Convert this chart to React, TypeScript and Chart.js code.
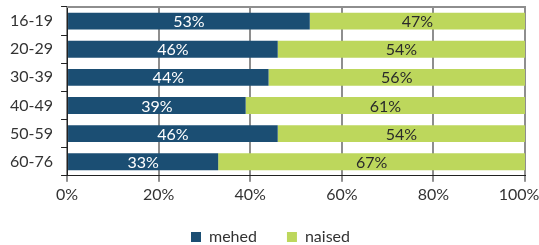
import React, { useEffect, useRef } from "react";
import { Chart, registerables } from "chart.js";

Chart.register(...registerables);

const categories = ["16-19", "20-29", "30-39", "40-49", "50-59", "60-76"];
const mehed = [53, 46, 44, 39, 46, 33];
const naised = [47, 54, 56, 61, 54, 67];
const xTicks = [0, 20, 40, 60, 80, 100];

const BLUE = "#1b4e73";
const GREEN = "#bdd75c";
const GRID = "#8e8e8e";
const FONT = "Lato, 'Open Sans', sans-serif";

const labelPlugin = {
  id: "barLabels",
  afterDatasetsDraw(chart: any) {
    const ctx = chart.ctx;
    ctx.save();
    ctx.font = `16px ${FONT}`;
    ctx.textAlign = "center";
    ctx.textBaseline = "middle";
    chart.data.datasets.forEach((ds: any, di: number) => {
      const meta = chart.getDatasetMeta(di);
      meta.data.forEach((bar: any, i: number) => {
        const x = (bar.x + bar.base) / 2;
        ctx.fillStyle = di === 0 ? "#ffffff" : "#2a2a2a";
        ctx.fillText(ds.data[i] + "%", x, bar.y + 1);
      });
    });
    ctx.restore();
  },
};

const topLinePlugin = {
  id: "topLine",
  beforeDatasetsDraw(chart: any) {
    const { ctx, chartArea } = chart;
    ctx.save();
    ctx.strokeStyle = GRID;
    ctx.lineWidth = 2;
    ctx.beginPath();
    ctx.moveTo(chartArea.left, chartArea.top);
    ctx.lineTo(chartArea.right + 1, chartArea.top);
    ctx.stroke();
    ctx.restore();
  },
};

export default function App() {
  const ref = useRef<HTMLCanvasElement>(null);
  useEffect(() => {
    const chart = new Chart(ref.current!, {
      type: "bar",
      data: {
        labels: categories,
        datasets: [
          { label: "mehed", data: mehed, backgroundColor: BLUE, barPercentage: 0.6, categoryPercentage: 1 },
          { label: "naised", data: naised, backgroundColor: GREEN, barPercentage: 0.6, categoryPercentage: 1 },
        ],
      },
      options: {
        indexAxis: "y",
        animation: false,
        responsive: false,
        maintainAspectRatio: false,
        layout: { padding: { top: 7, right: 0, left: 2, bottom: -10 } },
        plugins: {
          legend: {
            position: "bottom",
            labels: {
              boxWidth: 10,
              boxHeight: 10,
              padding: 22,
              color: "#333",
              font: { family: FONT, size: 16 },
              generateLabels: (chart: any) => {
                const items = Chart.defaults.plugins.legend.labels.generateLabels(chart);
                items.forEach((it: any, i: number) => {
                  if (i === 0) it.text = it.text + "\u2002";
                  it.lineWidth = 0;
                });
                return items;
              },
            },
          },
          tooltip: { enabled: false },
        },
        scales: {
          x: {
            stacked: true,
            min: 0,
            max: 100,
            afterBuildTicks: (axis: any) => {
              axis.ticks = xTicks.map((v) => ({ value: v }));
            },
            afterFit: (axis: any) => {
              axis.paddingRight = 14;
            },
            ticks: {
              callback: (v: any) => (v === 100 ? v + "%\u2003" : v + "%"),
              color: "#333",
              font: { family: FONT, size: 16 },
              padding: 3,
            },
            grid: { color: GRID, lineWidth: 2, tickColor: "#222", tickWidth: 1, tickLength: 6 },
            border: { color: "#222", width: 1 },
          },
          y: {
            stacked: true,
            afterFit: (axis: any) => {
              axis.paddingTop = 0;
              axis.paddingBottom = 0;
            },
            ticks: { color: "#333", font: { family: FONT, size: 16 }, padding: 8 },
            grid: { offset: true, drawOnChartArea: false, tickColor: "#222", tickLength: 6 },
            border: { color: "#222" },
          },
        },
      },
      plugins: [labelPlugin, topLinePlugin],
    });
    return () => chart.destroy();
  }, []);
  return (
    <div style={{ position: "fixed", left: 0, top: 0, width: 539, height: 245, background: "#fff" }}>
      <canvas ref={ref} width={539} height={245} />
    </div>
  );
}
